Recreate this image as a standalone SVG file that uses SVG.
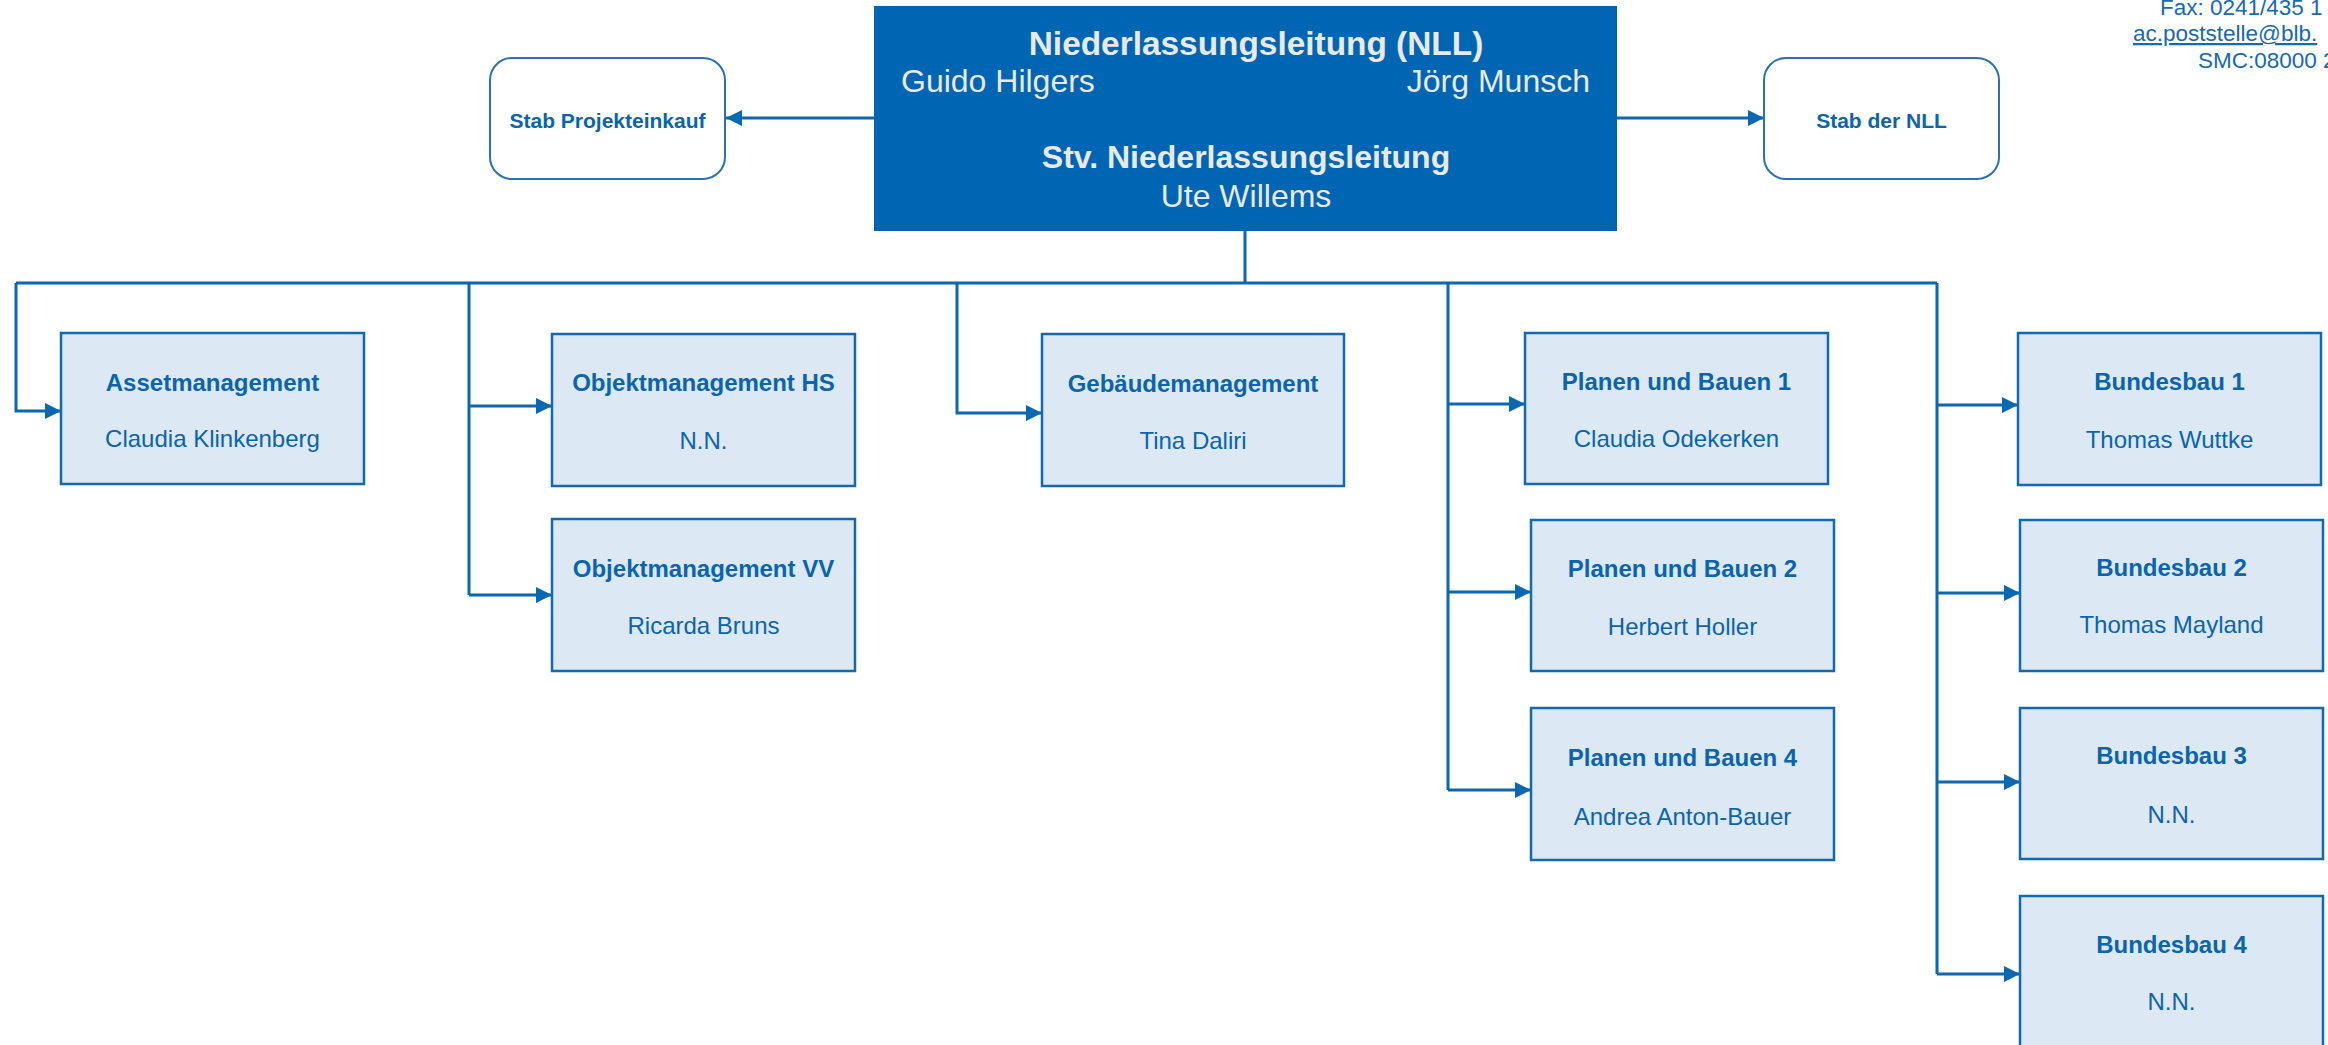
<svg xmlns="http://www.w3.org/2000/svg" width="2328" height="1045" viewBox="0 0 2328 1045">
  <style>
    .conn { fill: none; stroke: #0a67b2; stroke-width: 3; }
    .arr { marker-end: url(#ah); }
    .unit { fill: #dde8f5; stroke: #1268b3; stroke-width: 2.5; }
    .stab { fill: #ffffff; stroke: #2a72b8; stroke-width: 2; }
    .t { font-family: "Liberation Sans", Arial, sans-serif; font-size: 24px; fill: #0a64ae; text-anchor: middle; }
    .b { font-weight: bold; }
    .main { fill: #0066b3; }
    .mt { font-family: "Liberation Sans", Arial, sans-serif; font-size: 32px; fill: #e9e9ea; }
    .info { font-family: "Liberation Sans", Arial, sans-serif; font-size: 22.5px; fill: #1669b3; }
  </style>
  <defs>
    <marker id="ah" markerUnits="userSpaceOnUse" markerWidth="17" markerHeight="16" refX="16" refY="8" orient="auto">
      <path d="M0,0 L16,8 L0,16 z" fill="#0a67b2"/>
    </marker>
  </defs>

  <rect width="2328" height="1045" fill="#ffffff"/>

  <g id="contact">
    <text class="info" x="2160" y="15">Fax: 0241/435 1</text>
    <text class="info" x="2133" y="41" text-decoration="underline">ac.poststelle@blb.</text>
    <text class="info" x="2198" y="67.5">SMC:08000 2</text>
  </g>

  <g id="connectors">
    <line class="conn arr" x1="874" y1="118" x2="726" y2="118"/>
    <line class="conn arr" x1="1617" y1="118" x2="1764" y2="118"/>
    <line class="conn" x1="1245" y1="231" x2="1245" y2="283"/>
    <line class="conn" x1="16" y1="283" x2="1937" y2="283"/>
    <path class="conn arr" d="M16,283 V411 H61"/>
    <path class="conn" d="M469,283 V595"/>
    <path class="conn arr" d="M469,406 H552"/>
    <path class="conn arr" d="M469,595 H552"/>
    <path class="conn arr" d="M957,283 V413 H1042"/>
    <path class="conn" d="M1448,283 V790"/>
    <path class="conn arr" d="M1448,404 H1525"/>
    <path class="conn arr" d="M1448,592 H1531"/>
    <path class="conn arr" d="M1448,790 H1531"/>
    <path class="conn" d="M1937,283 V974"/>
    <path class="conn arr" d="M1937,405 H2018"/>
    <path class="conn arr" d="M1937,593 H2020"/>
    <path class="conn arr" d="M1937,782 H2020"/>
    <path class="conn arr" d="M1937,974 H2020"/>
  </g>

  <g id="nll">
    <rect class="main" x="874" y="6" width="743" height="225"/>
    <text class="mt b" x="1256" y="54.5" text-anchor="middle" style="font-size:33.4px">Niederlassungsleitung (NLL)</text>
    <text class="mt" x="901" y="92">Guido Hilgers</text>
    <text class="mt" x="1590" y="92" text-anchor="end">Jörg Munsch</text>
    <text class="mt b" x="1246" y="168" text-anchor="middle">Stv. Niederlassungsleitung</text>
    <text class="mt" x="1246" y="206.5" text-anchor="middle">Ute Willems</text>
  </g>

  <g id="stab-projekteinkauf">
    <rect class="stab" x="490" y="58" width="235" height="121" rx="22" ry="22"/>
    <text class="t b" x="607.5" y="127.5" style="font-size:21px">Stab Projekteinkauf</text>
  </g>

  <g id="stab-nll">
    <rect class="stab" x="1764" y="58" width="235" height="121" rx="22" ry="22"/>
    <text class="t b" x="1881.5" y="127.5" style="font-size:21px">Stab der NLL</text>
  </g>

  <g id="assetmanagement">
    <rect class="unit" x="61" y="333" width="303" height="151"/>
    <text class="t b" x="212.5" y="390.5">Assetmanagement</text>
    <text class="t" x="212.5" y="446.5">Claudia Klinkenberg</text>
  </g>

  <g id="objektmanagement-hs">
    <rect class="unit" x="552" y="334" width="303" height="152"/>
    <text class="t b" x="703.5" y="390.5">Objektmanagement HS</text>
    <text class="t" x="703.5" y="448.5">N.N.</text>
  </g>

  <g id="objektmanagement-vv">
    <rect class="unit" x="552" y="519" width="303" height="152"/>
    <text class="t b" x="703.5" y="576.5">Objektmanagement VV</text>
    <text class="t" x="703.5" y="633.5">Ricarda Bruns</text>
  </g>

  <g id="gebaeudemanagement">
    <rect class="unit" x="1042" y="334" width="302" height="152"/>
    <text class="t b" x="1193" y="391.5">Gebäudemanagement</text>
    <text class="t" x="1193" y="448.5">Tina Daliri</text>
  </g>

  <g id="planen-bauen-1">
    <rect class="unit" x="1525" y="333" width="303" height="151"/>
    <text class="t b" x="1676.5" y="389.5">Planen und Bauen 1</text>
    <text class="t" x="1676.5" y="446.5">Claudia Odekerken</text>
  </g>

  <g id="planen-bauen-2">
    <rect class="unit" x="1531" y="520" width="303" height="151"/>
    <text class="t b" x="1682.5" y="576.5">Planen und Bauen 2</text>
    <text class="t" x="1682.5" y="634.5">Herbert Holler</text>
  </g>

  <g id="planen-bauen-4">
    <rect class="unit" x="1531" y="708" width="303" height="152"/>
    <text class="t b" x="1682.5" y="765.5">Planen und Bauen 4</text>
    <text class="t" x="1682.5" y="824.5">Andrea Anton-Bauer</text>
  </g>

  <g id="bundesbau-1">
    <rect class="unit" x="2018" y="333" width="303" height="152"/>
    <text class="t b" x="2169.5" y="390">Bundesbau 1</text>
    <text class="t" x="2169.5" y="447.5">Thomas Wuttke</text>
  </g>

  <g id="bundesbau-2">
    <rect class="unit" x="2020" y="520" width="303" height="151"/>
    <text class="t b" x="2171.5" y="575.5">Bundesbau 2</text>
    <text class="t" x="2171.5" y="632.5">Thomas Mayland</text>
  </g>

  <g id="bundesbau-3">
    <rect class="unit" x="2020" y="708" width="303" height="151"/>
    <text class="t b" x="2171.5" y="764">Bundesbau 3</text>
    <text class="t" x="2171.5" y="822.5">N.N.</text>
  </g>

  <g id="bundesbau-4">
    <rect class="unit" x="2020" y="896" width="303" height="151"/>
    <text class="t b" x="2171.5" y="952.5">Bundesbau 4</text>
    <text class="t" x="2171.5" y="1009.5">N.N.</text>
  </g>
</svg>
